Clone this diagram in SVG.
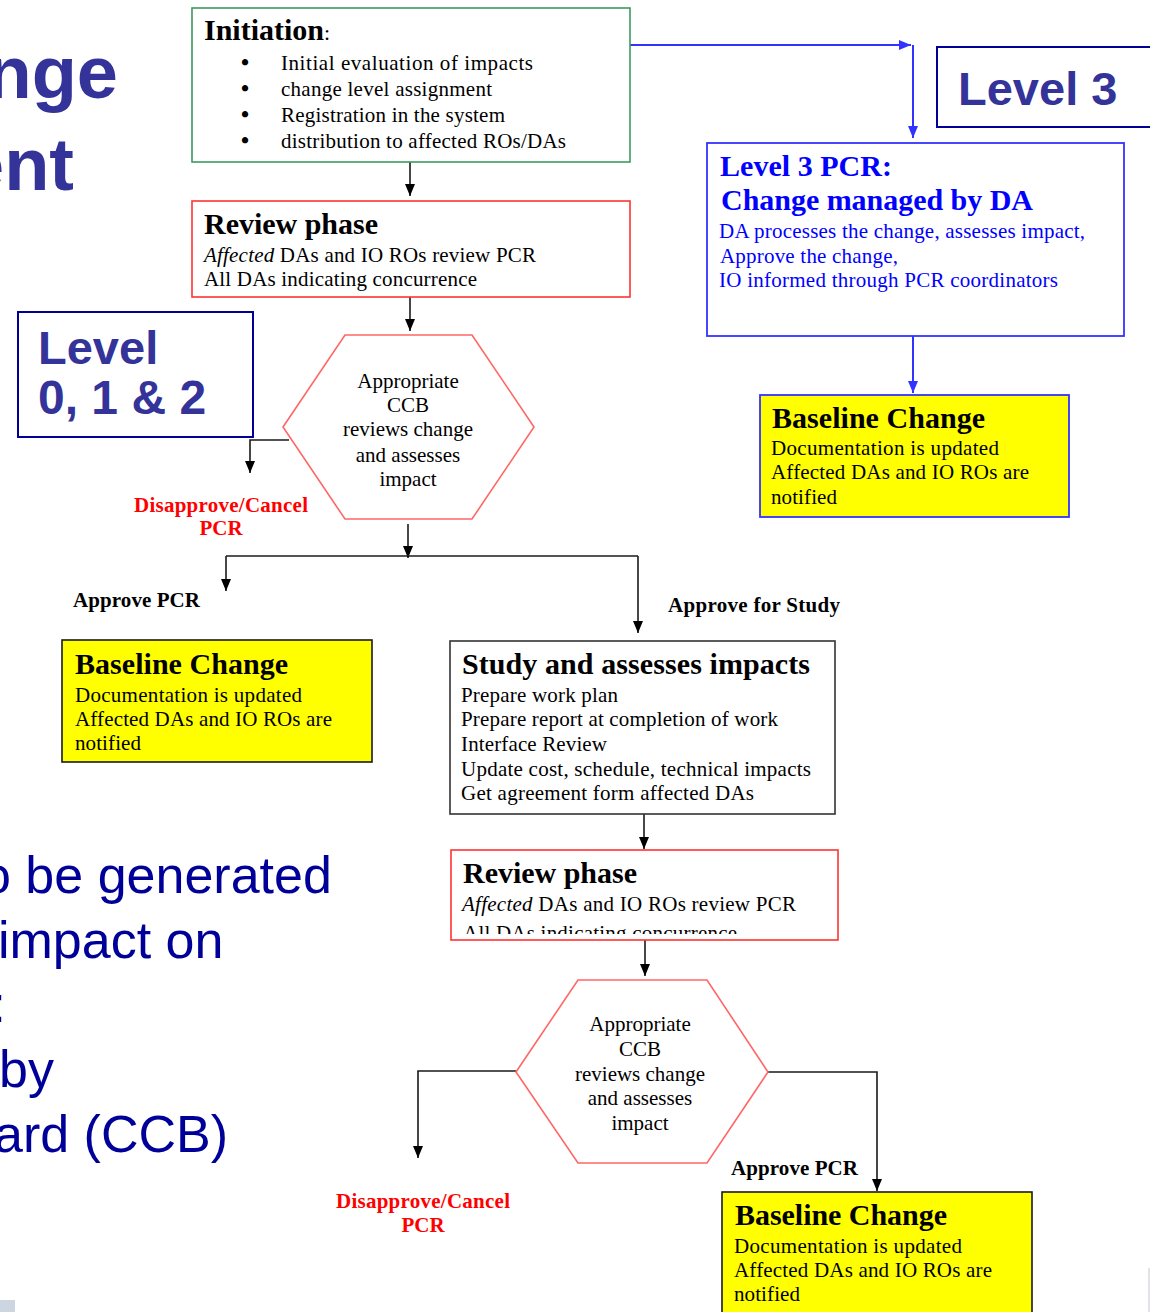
<svg xmlns="http://www.w3.org/2000/svg" width="1150" height="1312" viewBox="0 0 1150 1312">
  <defs>
    <style>
      .ser { font-family: "Liberation Serif", "Times New Roman", serif; font-size: 21px; fill: #000; }
      .bul { font-family: "Liberation Serif", "Times New Roman", serif; font-size: 23px; font-weight: bold; fill: #000; }
      .ttl { font-family: "Liberation Serif", "Times New Roman", serif; font-size: 30px; font-weight: bold; fill: #000; }
      .lbl { font-family: "Liberation Serif", "Times New Roman", serif; font-size: 21px; font-weight: bold; fill: #000; }
      .red { fill: #ff0000; }
      .blu { fill: #0000ff; }
      .big { font-family: "Liberation Sans", Arial, sans-serif; font-weight: bold; fill: #333399; }
      .body { font-family: "Liberation Sans", Arial, sans-serif; font-size: 52px; fill: #000099; }
      .conn { fill: none; stroke: #1a1a1a; stroke-width: 1.6; }
      .connb { fill: none; stroke: #3333ff; stroke-width: 2; }
      .it { font-style: italic; }
    </style>
    <marker id="ah" viewBox="0 0 10 10" refX="10" refY="5" markerWidth="12" markerHeight="10" orient="auto" markerUnits="userSpaceOnUse" preserveAspectRatio="none">
      <path d="M0,0 L10,5 L0,10 z" fill="#000"/>
    </marker>
    <marker id="ahb" viewBox="0 0 10 10" refX="10" refY="5" markerWidth="12" markerHeight="10" orient="auto" markerUnits="userSpaceOnUse" preserveAspectRatio="none">
      <path d="M0,0 L10,5 L0,10 z" fill="#3333ff"/>
    </marker>
    <clipPath id="rv2clip">
      <rect x="451" y="850" width="387" height="84"/>
    </clipPath>
  </defs>

  <rect width="1150" height="1312" fill="#fff"/>

  <!-- slide title and body text running off the left edge -->
  <g id="slide-title">
    <text class="big" x="118" y="98" font-size="74" text-anchor="end">nge</text>
    <text class="big" x="74" y="190" font-size="74" text-anchor="end">ent</text>
  </g>
  <g id="slide-body">
    <text class="body" x="-18" y="893">o be generated</text>
    <text class="body" x="-2" y="958">impact on</text>
    <text class="body" x="-8.5" y="1022">:</text>
    <text class="body" x="-1" y="1087">by</text>
    <text class="body" x="-6" y="1152">ard (CCB)</text>
  </g>

  <!-- level tags -->
  <g id="level3-tag">
    <rect x="937" y="47" width="220" height="80" fill="#fff" stroke="#000099" stroke-width="2"/>
    <text class="big" x="958" y="105" font-size="47">Level 3</text>
  </g>
  <g id="level012-tag">
    <rect x="18" y="312" width="235" height="125" fill="#fff" stroke="#000099" stroke-width="2"/>
    <text class="big" x="38" y="364" font-size="47">Level</text>
    <text class="big" x="38" y="414" font-size="48">0, 1 &amp; 2</text>
  </g>

  <!-- connectors -->
  <g id="connectors">
    <path class="conn" d="M410,162 V196" marker-end="url(#ah)"/>
    <path class="conn" d="M410,297 V331" marker-end="url(#ah)"/>
    <path class="conn" d="M289,440 H250 V473" marker-end="url(#ah)"/>
    <path class="conn" d="M408,524 V558" marker-end="url(#ah)"/>
    <path class="conn" d="M226,556 H638"/>
    <path class="conn" d="M226,556 V591" marker-end="url(#ah)"/>
    <path class="conn" d="M638,556 V633" marker-end="url(#ah)"/>
    <path class="conn" d="M644,814 V849" marker-end="url(#ah)"/>
    <path class="conn" d="M645,940 V976" marker-end="url(#ah)"/>
    <path class="conn" d="M516,1071 H418 V1158" marker-end="url(#ah)"/>
    <path class="conn" d="M768,1072 H877 V1191" marker-end="url(#ah)"/>
    <path class="connb" d="M630,45 H911" marker-end="url(#ahb)"/>
    <path class="connb" d="M913,45 V138" marker-end="url(#ahb)"/>
    <path class="connb" d="M913,336 V393" marker-end="url(#ahb)"/>
  </g>

  <!-- initiation -->
  <g id="initiation">
    <rect x="192" y="8" width="438" height="154" fill="#fff" stroke="#3c9a5f" stroke-width="1.6"/>
    <text class="ttl" x="204" y="40" font-size="28">Initiation<tspan font-weight="normal" font-size="22">:</tspan></text>
    <text class="bul" x="241" y="70">•</text>
    <text class="bul" x="241" y="96">•</text>
    <text class="bul" x="241" y="122">•</text>
    <text class="bul" x="241" y="148">•</text>
    <text class="ser" x="281" y="70" textLength="252" lengthAdjust="spacing">Initial  evaluation of  impacts</text>
    <text class="ser" x="281" y="96" textLength="211" lengthAdjust="spacing">change level assignment</text>
    <text class="ser" x="281" y="122" textLength="224" lengthAdjust="spacing">Registration in the system</text>
    <text class="ser" x="281" y="148" textLength="285" lengthAdjust="spacing">distribution to affected ROs/DAs</text>
  </g>

  <!-- first review -->
  <g id="review-1">
    <rect x="192" y="201" width="438" height="96" fill="#fff" stroke="#ff3333" stroke-width="1.6"/>
    <text class="ttl" x="204" y="234" textLength="174" lengthAdjust="spacing">Review phase</text>
    <text class="ser" x="204" y="262" textLength="332" lengthAdjust="spacing"><tspan class="it">Affected</tspan> DAs and IO ROs review PCR</text>
    <text class="ser" x="204" y="286" textLength="273" lengthAdjust="spacing">All DAs indicating concurrence</text>
  </g>

  <!-- first CCB decision -->
  <g id="ccb-1">
    <polygon points="283,427 345,335 472,335 534,427 472,519 345,519" fill="#fff" stroke="#ff6666" stroke-width="1.6"/>
    <text class="ser" x="408" y="388" text-anchor="middle">Appropriate</text>
    <text class="ser" x="408" y="412" text-anchor="middle">CCB</text>
    <text class="ser" x="408" y="436" text-anchor="middle">reviews change</text>
    <text class="ser" x="408" y="462" text-anchor="middle">and assesses</text>
    <text class="ser" x="408" y="486" text-anchor="middle">impact</text>
  </g>

  <g id="disapprove-1">
    <text class="lbl red" x="221" y="512" text-anchor="middle" textLength="174" lengthAdjust="spacing">Disapprove/Cancel</text>
    <text class="lbl red" x="221" y="535" text-anchor="middle">PCR</text>
  </g>
  <g id="approve-1">
    <text class="lbl" x="73" y="607" textLength="127" lengthAdjust="spacing">Approve PCR</text>
  </g>
  <g id="approve-study">
    <text class="lbl" x="668" y="612" textLength="172" lengthAdjust="spacing">Approve for Study</text>
  </g>

  <!-- baseline change, levels 0-2 -->
  <g id="baseline-left">
    <rect x="62" y="640" width="310" height="122" fill="#ffff00" stroke="#1a1a1a" stroke-width="1.6"/>
    <text class="ttl" x="75" y="674" textLength="213" lengthAdjust="spacing">Baseline Change</text>
    <text class="ser" x="75" y="702" textLength="227" lengthAdjust="spacing">Documentation is updated</text>
    <text class="ser" x="75" y="726" textLength="257" lengthAdjust="spacing">Affected DAs and IO ROs are</text>
    <text class="ser" x="75" y="750" textLength="66" lengthAdjust="spacing">notified</text>
  </g>

  <!-- study -->
  <g id="study">
    <rect x="450" y="641" width="385" height="173" fill="#fff" stroke="#333" stroke-width="1.6"/>
    <text class="ttl" x="462" y="674" textLength="348" lengthAdjust="spacing">Study and assesses impacts</text>
    <text class="ser" x="461" y="702" textLength="157" lengthAdjust="spacing">Prepare work plan</text>
    <text class="ser" x="461" y="726" textLength="317" lengthAdjust="spacing">Prepare report at completion of work</text>
    <text class="ser" x="461" y="751" textLength="146" lengthAdjust="spacing">Interface Review</text>
    <text class="ser" x="461" y="776" textLength="350" lengthAdjust="spacing">Update cost, schedule, technical impacts</text>
    <text class="ser" x="461" y="800" textLength="293" lengthAdjust="spacing">Get agreement form affected DAs</text>
  </g>

  <!-- second review -->
  <g id="review-2">
    <rect x="451" y="850" width="387" height="90" fill="#fff" stroke="#ff3333" stroke-width="1.6"/>
    <g clip-path="url(#rv2clip)">
      <text class="ttl" x="463" y="883" textLength="174" lengthAdjust="spacing">Review phase</text>
      <text class="ser" x="462" y="911" textLength="334" lengthAdjust="spacing"><tspan class="it">Affected</tspan> DAs and IO ROs review PCR</text>
      <text class="ser" x="463" y="940" textLength="274" lengthAdjust="spacing">All DAs indicating concurrence</text>
    </g>
  </g>

  <!-- second CCB decision -->
  <g id="ccb-2">
    <polygon points="516,1072 578,980 707,980 768,1072 707,1163 578,1163" fill="#fff" stroke="#ff6666" stroke-width="1.6"/>
    <text class="ser" x="640" y="1031" text-anchor="middle">Appropriate</text>
    <text class="ser" x="640" y="1056" text-anchor="middle">CCB</text>
    <text class="ser" x="640" y="1081" text-anchor="middle">reviews change</text>
    <text class="ser" x="640" y="1105" text-anchor="middle">and assesses</text>
    <text class="ser" x="640" y="1130" text-anchor="middle">impact</text>
  </g>

  <g id="disapprove-2">
    <text class="lbl red" x="423" y="1208" text-anchor="middle" textLength="174" lengthAdjust="spacing">Disapprove/Cancel</text>
    <text class="lbl red" x="423" y="1232" text-anchor="middle">PCR</text>
  </g>
  <g id="approve-2">
    <text class="lbl" x="731" y="1175" textLength="127" lengthAdjust="spacing">Approve PCR</text>
  </g>

  <!-- baseline change after study -->
  <g id="baseline-bottom">
    <rect x="722" y="1192" width="310" height="130" fill="#ffff00" stroke="#1a1a1a" stroke-width="1.6"/>
    <text class="ttl" x="735" y="1225" textLength="212" lengthAdjust="spacing">Baseline Change</text>
    <text class="ser" x="734" y="1253" textLength="228" lengthAdjust="spacing">Documentation is updated</text>
    <text class="ser" x="734" y="1277" textLength="258" lengthAdjust="spacing">Affected DAs and IO ROs are</text>
    <text class="ser" x="734" y="1301" textLength="66" lengthAdjust="spacing">notified</text>
  </g>

  <!-- level 3 route -->
  <g id="level3-pcr">
    <rect x="707" y="143" width="417" height="193" fill="#fff" stroke="#3333ff" stroke-width="1.8"/>
    <text class="ttl blu" x="720" y="176" textLength="172" lengthAdjust="spacing">Level 3 PCR:</text>
    <text class="ttl blu" x="721" y="210" textLength="312" lengthAdjust="spacing">Change managed by DA</text>
    <text class="ser blu" x="719" y="238" textLength="366" lengthAdjust="spacing">DA processes the change, assesses impact,</text>
    <text class="ser blu" x="720" y="263" textLength="178" lengthAdjust="spacing">Approve the change,</text>
    <text class="ser blu" x="719" y="287" textLength="339" lengthAdjust="spacing">IO informed through PCR coordinators</text>
  </g>

  <g id="baseline-right">
    <rect x="760" y="395" width="309" height="122" fill="#ffff00" stroke="#3333ff" stroke-width="1.8"/>
    <text class="ttl" x="772" y="428" textLength="213" lengthAdjust="spacing">Baseline Change</text>
    <text class="ser" x="771" y="455" textLength="228" lengthAdjust="spacing">Documentation is updated</text>
    <text class="ser" x="771" y="479" textLength="258" lengthAdjust="spacing">Affected DAs and IO ROs are</text>
    <text class="ser" x="771" y="504" textLength="66" lengthAdjust="spacing">notified</text>
  </g>

  <!-- slide edge fragments -->
  <rect x="0" y="1300" width="15" height="12" fill="#cdd5e0"/>
  <line x1="1149" y1="1268" x2="1149" y2="1312" stroke="#d8d8e0" stroke-width="1.5"/>
</svg>
